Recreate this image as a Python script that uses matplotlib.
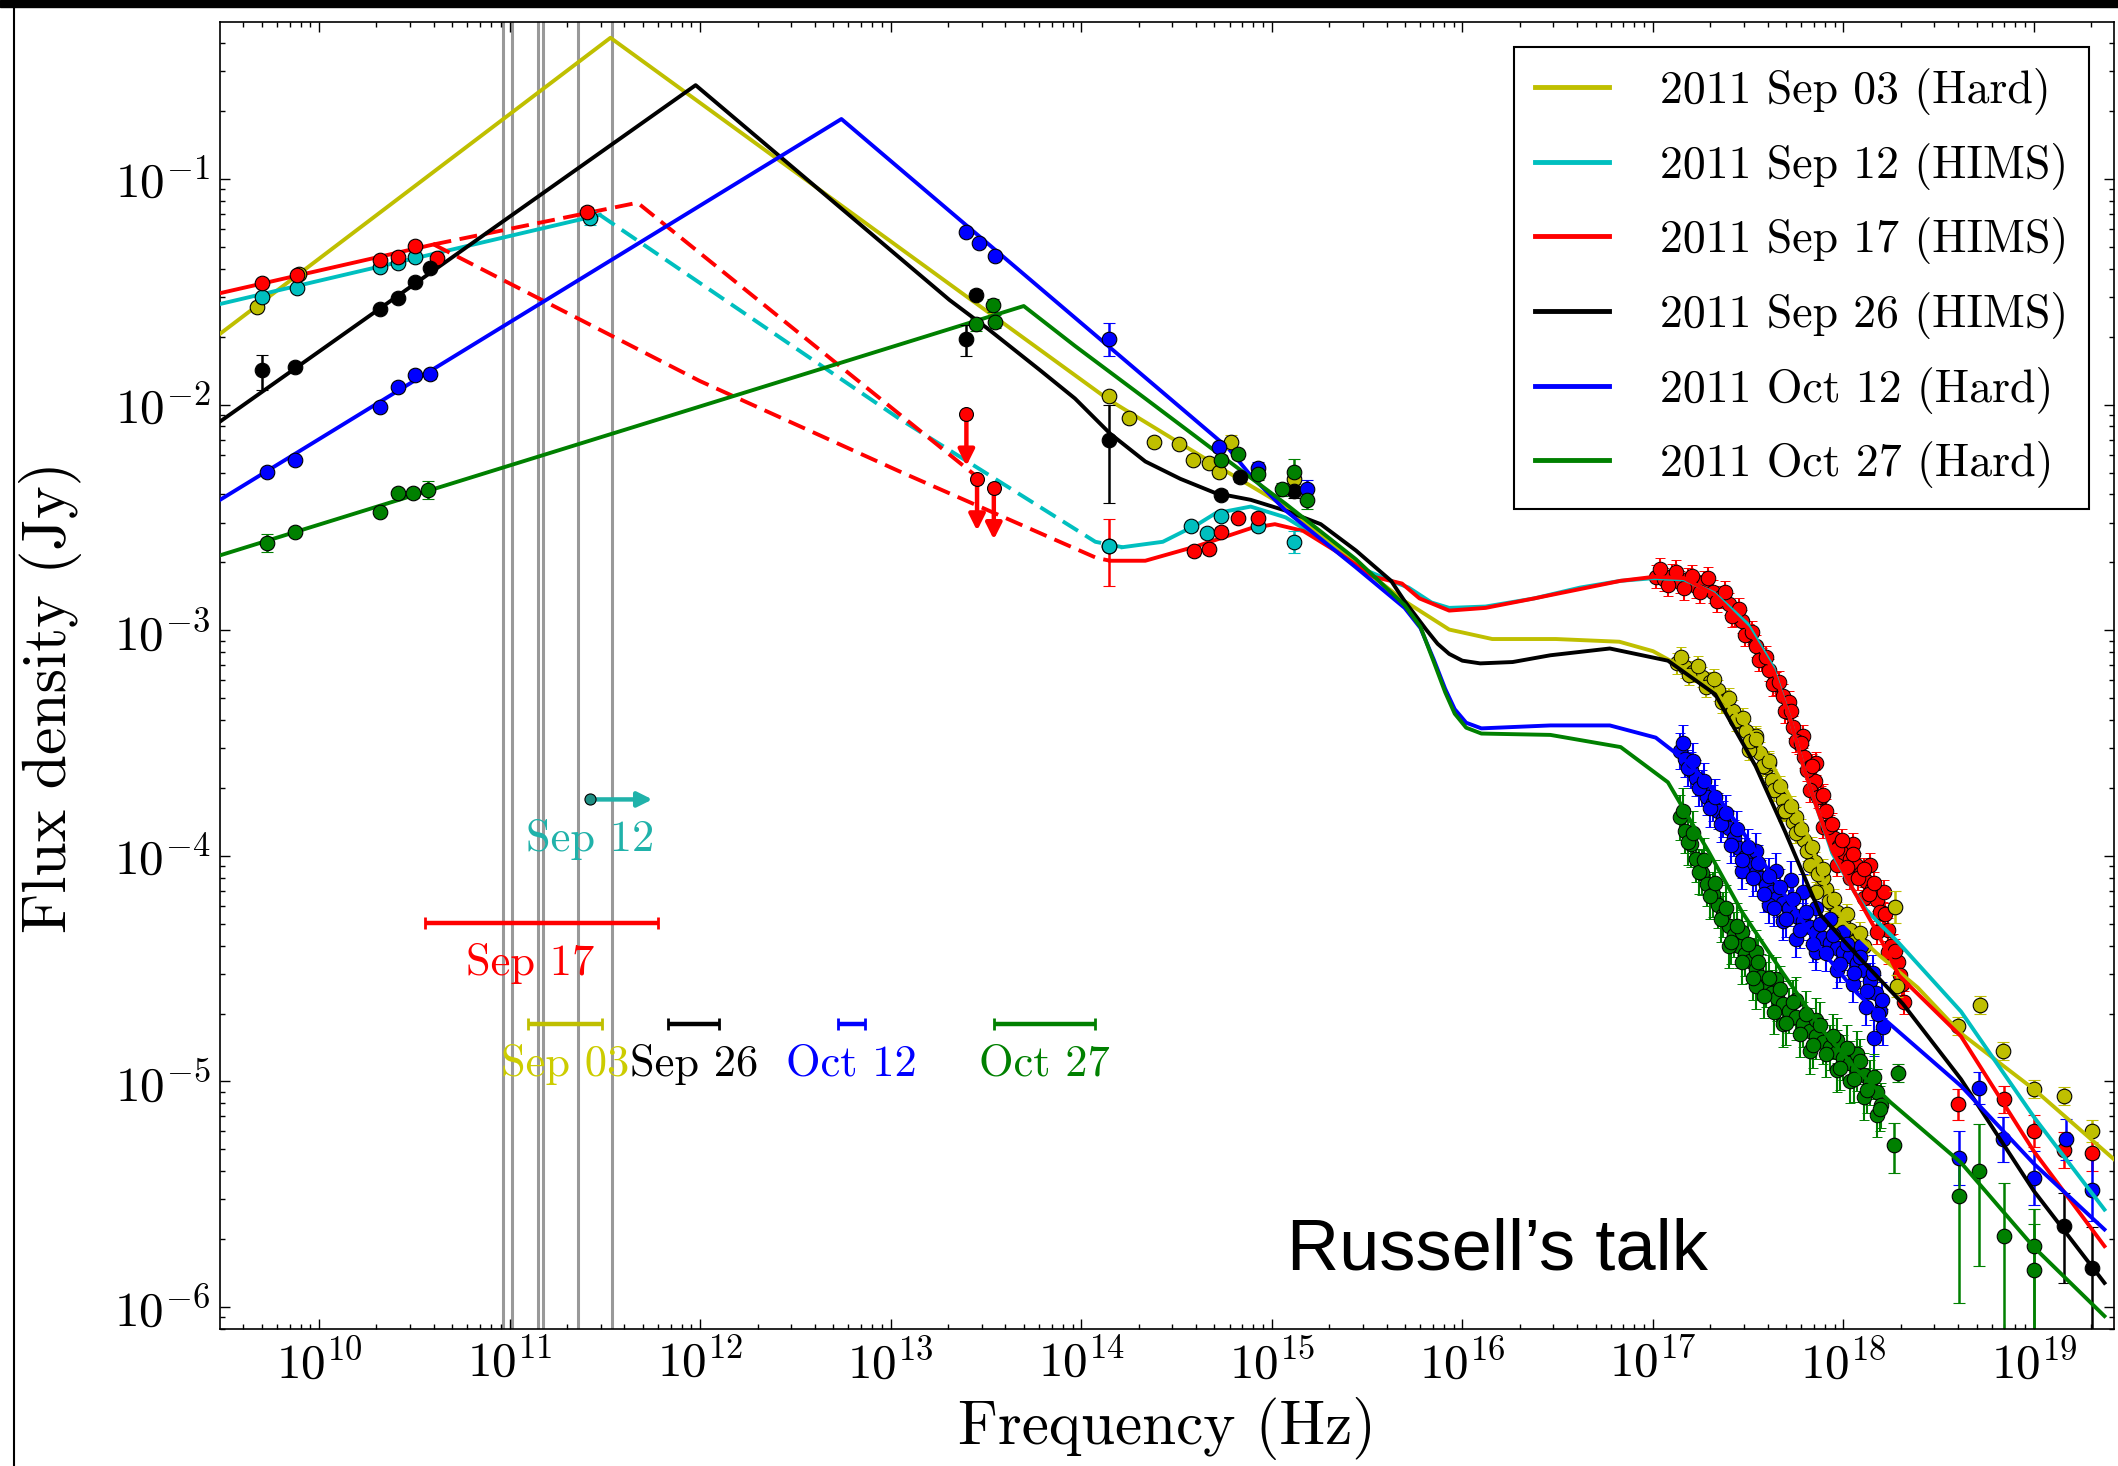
import numpy as np
import matplotlib
matplotlib.use('Agg')
import matplotlib.pyplot as plt
from matplotlib.ticker import LogLocator, FuncFormatter, NullFormatter, FixedLocator
from matplotlib.patches import Rectangle
from matplotlib.lines import Line2D

plt.rcParams['font.family'] = 'serif'
plt.rcParams['font.serif'] = ['cmr10']
plt.rcParams['mathtext.fontset'] = 'cm'
plt.rcParams['axes.formatter.use_mathtext'] = True

# everything below is log10(nu / Hz), log10(S_nu / Jy)

# ---------------- broadband model fits ----------------
fit_sep03 = [(9.48, -1.686), (11.529, -0.374), (14.145, -1.979), (14.761, -2.296), (15.073, -2.452),
             (15.442, -2.704), (15.697, -2.871), (15.931, -2.997), (16.157, -3.039), (16.491, -3.039),
             (16.824, -3.051), (17.001, -3.093), (17.143, -3.159), (17.327, -3.273), (17.497, -3.428),
             (17.610, -3.572), (17.724, -3.746), (17.823, -3.931), (17.900, -4.123), (18.000, -4.291),
             (18.170, -4.428), (18.390, -4.584), (18.617, -4.787), (19.000, -5.035), (19.420, -5.345)]

fit_sep12_radio = [(9.48, -1.554), (11.473, -1.159)]
fit_sep12_gap = [(11.473, -1.159), (13.046, -2.063), (14.074, -2.608), (14.216, -2.632)]
fit_sep12 = [(14.216, -2.632), (14.428, -2.608), (14.612, -2.530), (14.704, -2.482), (14.889, -2.452),
             (15.073, -2.500), (15.257, -2.596), (15.442, -2.716), (15.626, -2.781), (15.718, -2.811),
             (15.838, -2.877), (15.931, -2.901), (16.122, -2.895), (16.377, -2.859), (16.618, -2.811),
             (16.831, -2.781), (17.008, -2.769), (17.164, -2.775), (17.320, -2.835), (17.497, -2.973),
             (17.631, -3.165), (17.724, -3.404), (17.787, -3.596), (17.858, -3.781), (17.943, -3.991),
             (18.057, -4.159), (18.121, -4.240), (18.200, -4.310), (18.284, -4.380), (18.617, -4.690),
             (19.000, -5.158), (19.370, -5.568)]

fit_sep17_radio = [(9.48, -1.506), (10.601, -1.290)]
fit_sep17_gap_a = [(10.601, -1.290), (11.671, -1.105), (13.453, -2.320)]
fit_sep17_gap_b = [(10.601, -1.290), (11.997, -1.895), (13.046, -2.296), (14.081, -2.680), (14.152, -2.692)]
fit_sep17 = [(14.152, -2.692), (14.336, -2.692), (14.612, -2.626), (14.889, -2.548), (15.016, -2.530),
             (15.165, -2.560), (15.349, -2.656), (15.534, -2.763), (15.683, -2.793), (15.775, -2.859),
             (15.931, -2.913), (16.122, -2.901), (16.377, -2.859), (16.831, -2.781), (17.008, -2.763),
             (17.164, -2.769), (17.320, -2.841), (17.497, -2.991), (17.631, -3.177), (17.724, -3.404),
             (17.787, -3.596), (17.858, -3.781), (17.943, -3.979), (18.057, -4.159), (18.177, -4.339),
             (18.291, -4.530), (18.617, -4.800), (19.000, -5.310), (19.370, -5.730)]

fit_sep26 = [(9.48, -2.075), (11.976, -0.584), (13.308, -1.536), (13.507, -1.662), (13.783, -1.847),
             (13.967, -1.973), (14.152, -2.129), (14.336, -2.252), (14.520, -2.329), (14.704, -2.392),
             (14.889, -2.422), (15.073, -2.470), (15.257, -2.530), (15.442, -2.647), (15.626, -2.781),
             (15.697, -2.871), (15.810, -2.997), (15.870, -3.060), (15.931, -3.105), (16.000, -3.135),
             (16.094, -3.147), (16.264, -3.141), (16.462, -3.111), (16.774, -3.081), (17.079, -3.135),
             (17.327, -3.284), (17.539, -3.602), (17.695, -3.895), (17.880, -4.261), (18.064, -4.434),
             (18.312, -4.656), (18.617, -4.990), (19.000, -5.486), (19.370, -5.893)]

fit_oct12 = [(9.48, -2.422), (12.741, -0.734), (14.770, -2.192), (14.889, -2.314), (15.073, -2.470),
             (15.442, -2.722), (15.697, -2.901), (15.780, -2.990), (15.850, -3.130), (15.910, -3.260),
             (15.960, -3.350), (16.020, -3.410), (16.100, -3.435), (16.462, -3.422), (16.774, -3.422),
             (17.015, -3.476), (17.171, -3.578), (17.291, -3.680), (17.468, -3.889), (17.681, -4.159),
             (17.894, -4.428), (18.071, -4.608), (18.220, -4.728), (18.617, -5.020), (19.000, -5.365),
             (19.370, -5.656)]

fit_oct27 = [(9.48, -2.668), (13.698, -1.563), (13.967, -1.740), (14.336, -1.973), (14.704, -2.207),
             (15.073, -2.440), (15.442, -2.686), (15.697, -2.889), (15.780, -2.985), (15.850, -3.140),
             (15.910, -3.275), (15.960, -3.370), (16.020, -3.432), (16.100, -3.458), (16.462, -3.464),
             (16.831, -3.518), (17.079, -3.674), (17.199, -3.847), (17.291, -3.979), (17.468, -4.249),
             (17.681, -4.518), (17.894, -4.776), (18.071, -4.949), (18.248, -5.093), (18.617, -5.360),
             (19.000, -5.735), (19.370, -6.040)]

# ---------------- radio / IR / optical / UV photometry ----------------
# (log nu, log S, err_down, err_up) in dex
phot_sep03 = [(9.673, -1.566, 0.01, 0.01), (9.892, -1.419, 0.01, 0.01),
              (14.143, -1.964, 0.02, 0.02), (14.253, -2.058, 0.02, 0.02), (14.382, -2.166, 0.02, 0.02),
              (14.511, -2.174, 0.02, 0.02), (14.585, -2.244, 0.02, 0.02), (14.668, -2.259, 0.02, 0.02),
              (14.723, -2.299, 0.02, 0.02), (14.788, -2.166, 0.03, 0.03), (15.118, -2.330, 0.05, 0.05)]
phot_sep12 = [(9.699, -1.522, 0.01, 0.01), (9.882, -1.485, 0.01, 0.01), (10.320, -1.389, 0.01, 0.01),
              (10.416, -1.374, 0.01, 0.01), (10.503, -1.347, 0.01, 0.01), (11.422, -1.174, 0.03, 0.03),
              (14.575, -2.540, 0.02, 0.02), (14.658, -2.570, 0.02, 0.02), (14.733, -2.493, 0.02, 0.02),
              (14.926, -2.540, 0.02, 0.02), (15.118, -2.609, 0.05, 0.05)]
phot_sep17 = [(9.699, -1.463, 0.01, 0.01), (9.882, -1.426, 0.01, 0.01), (10.320, -1.359, 0.01, 0.01),
              (10.416, -1.344, 0.01, 0.01), (10.503, -1.297, 0.01, 0.01), (10.617, -1.351, 0.01, 0.01),
              (11.404, -1.145, 0.02, 0.02), (14.143, -2.625, 0.179, 0.117),
              (14.594, -2.649, 0.02, 0.02), (14.668, -2.640, 0.02, 0.02), (14.733, -2.563, 0.02, 0.02),
              (14.824, -2.501, 0.02, 0.02), (14.926, -2.501, 0.02, 0.02)]
phot_sep12_nir = [(14.143, -2.625, 0.0, 0.0)]
phot_sep26 = [(9.699, -1.847, 0.088, 0.067), (9.874, -1.832, 0.01, 0.01), (10.320, -1.574, 0.01, 0.01),
              (10.416, -1.529, 0.01, 0.01), (10.503, -1.455, 0.01, 0.01), (10.582, -1.396, 0.01, 0.01),
              (13.446, -1.513, 0.02, 0.02), (13.395, -1.708, 0.077, 0.059), (14.143, -2.159, 0.279, 0.156),
              (14.733, -2.399, 0.02, 0.02), (14.833, -2.322, 0.02, 0.02), (15.118, -2.384, 0.03, 0.03)]
phot_oct12 = [(9.725, -2.298, 0.01, 0.01), (9.874, -2.246, 0.01, 0.01), (10.320, -2.010, 0.01, 0.01),
              (10.416, -1.921, 0.01, 0.01), (10.503, -1.869, 0.01, 0.01), (10.582, -1.865, 0.02, 0.02),
              (13.395, -1.233, 0.01, 0.01), (13.462, -1.284, 0.01, 0.01), (13.546, -1.343, 0.01, 0.01),
              (14.143, -1.708, 0.077, 0.070), (14.723, -2.189, 0.02, 0.02), (14.926, -2.283, 0.03, 0.03),
              (15.183, -2.376, 0.04, 0.04)]
phot_oct27 = [(9.725, -2.615, 0.04, 0.04), (9.874, -2.563, 0.01, 0.01), (10.320, -2.475, 0.01, 0.01),
              (10.416, -2.393, 0.02, 0.02), (10.495, -2.393, 0.02, 0.02), (10.573, -2.379, 0.04, 0.04),
              (13.450, -1.644, 0.03, 0.03), (13.535, -1.560, 0.03, 0.03), (13.549, -1.632, 0.03, 0.03),
              (14.733, -2.244, 0.02, 0.02), (14.824, -2.220, 0.02, 0.02), (14.926, -2.306, 0.03, 0.03),
              (15.054, -2.376, 0.03, 0.03), (15.118, -2.299, 0.06, 0.06), (15.183, -2.423, 0.04, 0.04)]

# mid-IR upper limits, Sep 17
ulim_sep17 = [(13.397, -2.042), (13.453, -2.329), (13.541, -2.368)]
ulim_len = 0.23

# ---------------- X-ray spectra (XRT / BAT) ----------------
xrt_sep17 = [(17.015, -2.763), (17.057, -2.775), (17.100, -2.758), (17.143, -2.787), (17.185, -2.775),
             (17.228, -2.805), (17.270, -2.787), (17.313, -2.829), (17.355, -2.853), (17.398, -2.883),
             (17.433, -2.931), (17.468, -2.961), (17.504, -3.021), (17.539, -3.069), (17.575, -3.129),
             (17.610, -3.177), (17.646, -3.237), (17.681, -3.290), (17.709, -3.362), (17.738, -3.428),
             (17.766, -3.500), (17.794, -3.560), (17.823, -3.608), (17.851, -3.668), (17.880, -3.740),
             (17.908, -3.800), (17.929, -3.871), (17.950, -3.919), (17.979, -3.955), (18.007, -3.991),
             (18.035, -4.015), (18.064, -4.039), (18.092, -4.075), (18.121, -4.111), (18.149, -4.147),
             (18.177, -4.195), (18.206, -4.255), (18.234, -4.327), (18.262, -4.398), (18.284, -4.470),
             (18.305, -4.566), (18.319, -4.650), (17.787, -3.470), (17.717, -3.320), (17.858, -3.590),
             (17.823, -3.710), (17.894, -3.871), (17.965, -4.039), (18.050, -3.949), (18.035, -4.099),
             (18.106, -4.189), (18.142, -4.039), (18.213, -4.159), (18.177, -4.339), (18.234, -4.428),
             (17.036, -2.730), (17.079, -2.800), (17.121, -2.740), (17.164, -2.815), (17.206, -2.760),
             (17.249, -2.830), (17.291, -2.770), (17.334, -2.870), (17.376, -2.830), (17.415, -2.935),
             (17.450, -2.905), (17.486, -3.020), (17.521, -3.010), (17.557, -3.130), (17.592, -3.120),
             (17.628, -3.240), (17.663, -3.230), (17.695, -3.360), (17.724, -3.360), (17.752, -3.490),
             (17.780, -3.500), (17.808, -3.620), (17.837, -3.600), (17.865, -3.740), (17.894, -3.730),
             (17.918, -3.870), (17.940, -3.860), (17.965, -3.970), (17.993, -3.930), (18.021, -4.050),
             (18.050, -3.990), (18.078, -4.100), (18.106, -4.060), (18.135, -4.170), (18.163, -4.120),
             (18.191, -4.250), (18.220, -4.260), (18.248, -4.400), (18.273, -4.420), (18.295, -4.530)]
xrt_sep03 = [(17.128, -3.147), (17.171, -3.165), (17.213, -3.183), (17.256, -3.207), (17.298, -3.231),
             (17.341, -3.267), (17.383, -3.308), (17.419, -3.356), (17.454, -3.404), (17.490, -3.446),
             (17.525, -3.494), (17.561, -3.542), (17.596, -3.608), (17.624, -3.662), (17.653, -3.710),
             (17.681, -3.752), (17.709, -3.800), (17.738, -3.848), (17.766, -3.889), (17.794, -3.931),
             (17.823, -3.979), (17.851, -4.027), (17.880, -4.087), (17.908, -4.147), (17.936, -4.207),
             (17.965, -4.249), (18.000, -4.285), (18.035, -4.327), (18.071, -4.368), (18.106, -4.398),
             (17.504, -3.530), (17.539, -3.470), (17.610, -3.590), (17.681, -3.800), (17.752, -3.830),
             (17.823, -4.039), (17.858, -4.159), (17.894, -4.099),
             (17.150, -3.120), (17.192, -3.200), (17.235, -3.160), (17.277, -3.250), (17.320, -3.215),
             (17.362, -3.320), (17.401, -3.300), (17.437, -3.400), (17.472, -3.390), (17.508, -3.490),
             (17.543, -3.480), (17.578, -3.600), (17.610, -3.580), (17.638, -3.710), (17.667, -3.690),
             (17.695, -3.800), (17.724, -3.780), (17.752, -3.900), (17.780, -3.880), (17.808, -3.980),
             (17.837, -3.960), (17.865, -4.080), (17.894, -4.060), (17.922, -4.200), (17.950, -4.190),
             (17.983, -4.300), (18.018, -4.260), (18.053, -4.380), (18.088, -4.340)]
xrt_oct12 = [(17.143, -3.536), (17.171, -3.572), (17.199, -3.620), (17.228, -3.656), (17.256, -3.698),
             (17.284, -3.740), (17.313, -3.764), (17.341, -3.800), (17.369, -3.836), (17.398, -3.877),
             (17.426, -3.919), (17.454, -3.967), (17.483, -4.003), (17.511, -4.039), (17.539, -4.075),
             (17.568, -4.099), (17.596, -4.129), (17.624, -4.159), (17.653, -4.189), (17.681, -4.207),
             (17.717, -4.231), (17.752, -4.267), (17.787, -4.291), (17.823, -4.315), (17.858, -4.339),
             (17.894, -4.362), (17.929, -4.386), (17.965, -4.410), (18.000, -4.428), (18.035, -4.446),
             (18.071, -4.476), (18.106, -4.506), (18.142, -4.554), (18.170, -4.608), (18.191, -4.686),
             (18.206, -4.758), (17.468, -4.069), (17.539, -3.979), (17.610, -4.219), (17.646, -4.069),
             (17.681, -4.291), (17.724, -4.105), (17.752, -4.368), (17.787, -4.159), (17.858, -4.231),
             (17.858, -4.428), (17.929, -4.279), (17.965, -4.506), (18.000, -4.339), (18.050, -4.566),
             (18.092, -4.398), (18.121, -4.668), (18.163, -4.806),
             (17.157, -3.500), (17.185, -3.610), (17.213, -3.580), (17.242, -3.700), (17.270, -3.670),
             (17.298, -3.790), (17.327, -3.740), (17.355, -3.860), (17.383, -3.810), (17.412, -3.950),
             (17.440, -3.880), (17.468, -4.020), (17.497, -3.960), (17.525, -4.100), (17.554, -4.030),
             (17.582, -4.170), (17.610, -4.090), (17.638, -4.230), (17.667, -4.140), (17.699, -4.280),
             (17.734, -4.190), (17.770, -4.330), (17.805, -4.250), (17.840, -4.390), (17.876, -4.300),
             (17.911, -4.430), (17.947, -4.350), (17.983, -4.480), (18.018, -4.390), (18.053, -4.520),
             (18.088, -4.450), (18.124, -4.600), (18.156, -4.520), (18.180, -4.700), (18.200, -4.640)]
xrt_oct27 = [(17.143, -3.830), (17.171, -3.889), (17.199, -3.949), (17.228, -4.015), (17.256, -4.075),
             (17.284, -4.123), (17.313, -4.171), (17.341, -4.219), (17.369, -4.261), (17.398, -4.309),
             (17.426, -4.350), (17.454, -4.398), (17.483, -4.434), (17.511, -4.464), (17.539, -4.500),
             (17.568, -4.536), (17.596, -4.572), (17.624, -4.608), (17.653, -4.632), (17.681, -4.656),
             (17.717, -4.686), (17.752, -4.716), (17.787, -4.746), (17.823, -4.776), (17.858, -4.800),
             (17.894, -4.824), (17.929, -4.848), (17.965, -4.871), (18.000, -4.895), (18.035, -4.919),
             (18.071, -4.943), (18.106, -4.973), (18.142, -5.003), (18.177, -5.045), (18.198, -5.105),
             (17.398, -4.398), (17.468, -4.339), (17.539, -4.428), (17.539, -4.578), (17.646, -4.548),
             (17.681, -4.746), (17.752, -4.638), (17.823, -4.866), (17.858, -4.728), (17.965, -4.818),
             (17.965, -4.949), (18.035, -4.997), (18.071, -4.877), (18.106, -5.069), (18.177, -5.147),
             (17.157, -3.800), (17.185, -3.940), (17.213, -3.900), (17.242, -4.070), (17.270, -4.020),
             (17.298, -4.180), (17.327, -4.120), (17.355, -4.280), (17.383, -4.230), (17.412, -4.380),
             (17.440, -4.310), (17.468, -4.470), (17.497, -4.390), (17.525, -4.540), (17.554, -4.470),
             (17.582, -4.620), (17.610, -4.540), (17.638, -4.690), (17.667, -4.590), (17.699, -4.740),
             (17.734, -4.650), (17.770, -4.790), (17.805, -4.700), (17.840, -4.840), (17.876, -4.750),
             (17.911, -4.880), (17.947, -4.800), (17.983, -4.940), (18.018, -4.850), (18.053, -4.990),
             (18.088, -4.910), (18.124, -5.040), (18.160, -4.980), (18.190, -5.120)]
xrt_err = {'sep17': 0.05, 'sep03': 0.045, 'oct12': 0.08, 'oct27': 0.1}

hard_sep03 = [(18.269, -4.227, 0.07, 0.07), (18.281, -4.576, 0.05, 0.05), (18.599, -4.755, 0.04, 0.04),
              (18.717, -4.661, 0.04, 0.04), (18.835, -4.866, 0.04, 0.04), (19.001, -5.035, 0.04, 0.04),
              (19.159, -5.065, 0.04, 0.04), (19.307, -5.220, 0.05, 0.05)]
hard_sep17 = [(18.599, -5.102, 0.07, 0.07), (18.844, -5.080, 0.06, 0.06), (19.001, -5.220, 0.07, 0.07),
              (19.159, -5.302, 0.08, 0.08), (19.307, -5.317, 0.08, 0.08)]
hard_oct12 = [(18.608, -5.338, 0.12, 0.12), (18.713, -5.028, 0.07, 0.07), (18.840, -5.257, 0.10, 0.10),
              (19.001, -5.427, 0.12, 0.12), (19.167, -5.257, 0.09, 0.09), (19.307, -5.479, 0.14, 0.14)]
hard_oct27 = [(18.284, -4.962, 0.04, 0.04), (18.266, -5.280, 0.125, 0.097), (18.608, -5.508, 0.473, 0.155),
              (18.713, -5.398, 0.421, 0.208), (18.844, -5.686, 0.46, 0.237), (19.001, -5.730, 0.42, 0.164),
              (19.001, -5.834, 0.32, 0.20)]
hard_sep26 = [(19.159, -5.641, 0.252, 0.148), (19.307, -5.826, 0.32, 0.18)]

# ---------------- jet break constraints ----------------
brk_sep17 = (10.556, 11.780, -4.299)
brk_sep03 = (11.097, 11.483, -4.746)
brk_sep26 = (11.830, 12.101, -4.746)
brk_oct12 = (12.724, 12.864, -4.746)
brk_oct27 = (13.544, 14.071, -4.746)
lim_sep12 = (11.423, 11.749, -3.750)

# frequencies of the (sub)mm observing bands
mm_nu = [9.17e10, 1.03e11, 1.40e11, 1.50e11, 2.29e11, 3.46e11]

yel = (0.75, 0.75, 0.0)
cya = (0.0, 0.75, 0.75)
grn = (0.0, 0.5, 0.0)
labels = ['2011 Sep 03 (Hard)', '2011 Sep 12 (HIMS)', '2011 Sep 17 (HIMS)',
          '2011 Sep 26 (HIMS)', '2011 Oct 12 (Hard)', '2011 Oct 27 (Hard)']


def lin(pts):
    a = np.array(pts, dtype=float)
    return 10 ** a[:, 0], 10 ** a[:, 1]


def draw_points(ax, pts, c, ms=10.5, z=4, cap=4):
    a = np.array(pts, dtype=float)
    s = 10 ** a[:, 1]
    yerr = [s - 10 ** (a[:, 1] - a[:, 2]), 10 ** (a[:, 1] + a[:, 3]) - s]
    ax.errorbar(10 ** a[:, 0], s, yerr=yerr, fmt='o', ms=ms, mfc=c, mec='k', mew=0.8,
                ecolor=c, elinewidth=1.8, capsize=cap, capthick=1.6, zorder=z)


def draw_band(ax, pts, c, err, ms=10.5):
    a = np.array(pts, dtype=float)
    s = 10 ** a[:, 1]
    yerr = [s - 10 ** (a[:, 1] - err), 10 ** (a[:, 1] + err) - s]
    ax.errorbar(10 ** a[:, 0], s, yerr=yerr, fmt='o', ms=ms, mfc=c, mec='k', mew=0.7,
                ecolor=c, elinewidth=1.5, capsize=3.5, capthick=1.3, zorder=2)


fig = plt.figure(figsize=(21.18, 14.66), dpi=100)
fig.patch.set_facecolor('white')
ax = fig.add_axes([0.1039, 0.0935, 0.8942, 0.8915])
ax.set_xscale('log')
ax.set_yscale('log')

for nu in mm_nu:
    ax.axvline(nu, color='0.6', lw=2.2, zorder=0.5)

# X-ray data
draw_band(ax, xrt_sep17, 'r', xrt_err['sep17'])
draw_band(ax, xrt_sep03, yel, xrt_err['sep03'])
draw_band(ax, xrt_oct12, 'b', xrt_err['oct12'])
draw_band(ax, xrt_oct27, grn, xrt_err['oct27'])
draw_points(ax, hard_sep03, yel, z=2.5)
draw_points(ax, hard_sep17, 'r', z=2.5)
draw_points(ax, hard_oct12, 'b', z=2.5)
draw_points(ax, hard_oct27, grn, z=2.5)
draw_points(ax, hard_sep26, 'k', z=2.5)

lw = 2.8
dash = (0, (4.6, 2.2))
handles = []
h, = ax.plot(*lin(fit_sep03), color=yel, lw=lw, zorder=3)
handles.append(h)
ax.plot(*lin(fit_sep12_radio), color=cya, lw=lw, zorder=3)
ax.plot(*lin(fit_sep12_gap), color=cya, lw=lw, ls=dash, zorder=3)
h, = ax.plot(*lin(fit_sep12), color=cya, lw=lw, zorder=3)
handles.append(h)
ax.plot(*lin(fit_sep17_radio), color='r', lw=lw, zorder=3)
ax.plot(*lin(fit_sep17_gap_a), color='r', lw=lw, ls=dash, zorder=3)
ax.plot(*lin(fit_sep17_gap_b), color='r', lw=lw, ls=dash, zorder=3)
h, = ax.plot(*lin(fit_sep17), color='r', lw=lw, zorder=3)
handles.append(h)
h, = ax.plot(*lin(fit_sep26), color='k', lw=lw, zorder=3)
handles.append(h)
h, = ax.plot(*lin(fit_oct12), color='b', lw=lw, zorder=3)
handles.append(h)
h, = ax.plot(*lin(fit_oct27), color=grn, lw=lw, zorder=3)
handles.append(h)

# radio to UV photometry
draw_points(ax, phot_sep03, yel)
draw_points(ax, phot_sep12, cya)
draw_points(ax, phot_sep17, 'r')
draw_points(ax, phot_sep12_nir, cya)
draw_points(ax, phot_sep26, 'k')
draw_points(ax, phot_oct12, 'b')
draw_points(ax, phot_oct27, grn)

for lnu, ls in ulim_sep17:
    ax.annotate('', xy=(10 ** lnu, 10 ** (ls - ulim_len)), xytext=(10 ** lnu, 10 ** ls),
                arrowprops=dict(arrowstyle='-|>', color='r', lw=3.2, mutation_scale=24,
                                shrinkA=0, shrinkB=0), zorder=4)
    ax.plot(10 ** lnu, 10 ** ls, 'o', ms=10, mfc='r', mec='k', mew=0.8, zorder=5)

# jet break frequency ranges, label nudged sideways where needed
lab_off = -29
for (lo, hi, y), c, txt, dx in [(brk_sep17, 'r', 'Sep 17', -8), (brk_sep03, (0.8, 0.8, 0.0), 'Sep 03', 0),
                                (brk_sep26, 'k', 'Sep 26', 0), (brk_oct12, 'b', 'Oct 12', 0),
                                (brk_oct27, grn, 'Oct 27', 0)]:
    xm = 10 ** ((lo + hi) / 2)
    ec = yel if txt == 'Sep 03' else c
    ax.errorbar(xm, 10 ** y, xerr=[[xm - 10 ** lo], [10 ** hi - xm]], fmt='none', ecolor=ec,
                elinewidth=3.2, capsize=4, capthick=2, zorder=4)
    ax.annotate(txt, (xm, 10 ** y), xytext=(dx, lab_off), textcoords='offset points',
                ha='center', va='center', fontsize=32, color=c)

lo, hi, y = lim_sep12
teal = '#20b2aa'
ax.annotate('', xy=(10 ** hi, 10 ** y), xytext=(10 ** lo, 10 ** y),
            arrowprops=dict(arrowstyle='-|>', color=teal, lw=3.2, mutation_scale=22,
                            shrinkA=0, shrinkB=0), zorder=4)
ax.plot(10 ** lo, 10 ** y, 'o', ms=8, mfc='#1f8f84', mec='k', mew=0.8, zorder=5)
ax.annotate('Sep 12', (10 ** lo, 10 ** y), xytext=(0, lab_off), textcoords='offset points',
            ha='center', va='center', fontsize=32, color=teal)

ax.set_xlim(10 ** 9.48, 10 ** 19.42)
ax.set_ylim(10 ** -6.097, 10 ** -0.304)

# only the decades inside the plotted range get labels
fmt = FuncFormatter(lambda v, p: r'$10^{%d}$' % int(round(np.log10(v))))
ax.xaxis.set_major_locator(FixedLocator([10.0 ** k for k in range(10, 20)]))
ax.yaxis.set_major_locator(FixedLocator([10.0 ** k for k in range(-6, 0)]))
ax.xaxis.set_minor_locator(FixedLocator([m * 10.0 ** k for k in range(9, 20) for m in range(2, 10)
                                         if 10 ** 9.48 < m * 10.0 ** k < 10 ** 19.42]))
ax.yaxis.set_minor_locator(FixedLocator([m * 10.0 ** k for k in range(-7, 0) for m in range(2, 10)
                                         if 10 ** -6.097 < m * 10.0 ** k < 10 ** -0.304]))
for axis in (ax.xaxis, ax.yaxis):
    axis.set_major_formatter(fmt)
    axis.set_minor_formatter(NullFormatter())
ax.tick_params(which='both', direction='in', top=True, right=True, width=1.0)
ax.tick_params(which='major', length=7.5, labelsize=35.5, pad=7)
ax.tick_params(which='minor', length=3.8)
for sp in ax.spines.values():
    sp.set_linewidth(1.2)

ax.set_xlabel('Frequency (Hz)', fontsize=44)
ax.set_ylabel('Flux density (Jy)', fontsize=44.5)
ax.xaxis.set_label_coords(0.5, -0.052)
ax.yaxis.set_label_coords(-0.073, 0.483)

leg = ax.legend(handles, labels, loc='upper right', fontsize=33, frameon=True, fancybox=False,
                framealpha=1, edgecolor='k', borderpad=0.45, labelspacing=0.605, handlelength=1.62,
                handletextpad=1.1, borderaxespad=0.55)
leg.get_frame().set_linewidth(1.5)
for ln in leg.get_lines():
    ln.set_linewidth(3.5)

fig.text(1287 / 2118, 1 - 1270 / 1466, 'Russell\u2019s talk', fontsize=52,
         family='Liberation Sans', ha='left', va='baseline')

# slide border
fig.add_artist(Rectangle((0, 1 - 7 / 1466), 1, 7 / 1466, transform=fig.transFigure,
                         color='k', zorder=10))
fig.add_artist(Line2D([13.5 / 2118, 13.5 / 2118], [0, 1], transform=fig.transFigure,
                      color='k', lw=1.5, zorder=10))

fig.savefig('out.png', dpi=100)
